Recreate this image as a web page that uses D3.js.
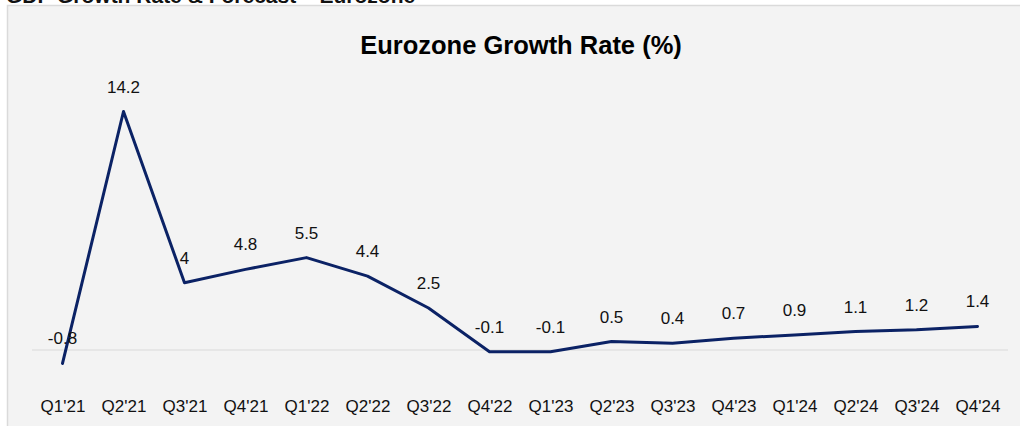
<!DOCTYPE html>
<html>
<head>
<meta charset="utf-8">
<script src="https://cdn.jsdelivr.net/npm/d3@7"></script>
<style>
  body { margin: 0; background: #fff; }
  svg text { font-family: "Liberation Sans", Arial, sans-serif; }
</style>
</head>
<body>
<svg id="chart" width="1020" height="426"></svg>
<script>
// chart data
let quarters = ["Q1'21", "Q2'21", "Q3'21", "Q4'21", "Q1'22", "Q2'22", "Q3'22", "Q4'22",
    "Q1'23", "Q2'23", "Q3'23", "Q4'23", "Q1'24", "Q2'24", "Q3'24", "Q4'24"]
let growth = [-0.8, 14.2, 4, 4.8, 5.5, 4.4, 2.5, -0.1, -0.1, 0.5, 0.4, 0.7, 0.9, 1.1, 1.2, 1.4]
let valueLabels = ["-0.8", "14.2", "4", "4.8", "5.5", "4.4", "2.5", "-0.1", "-0.1", "0.5", "0.4", "0.7", "0.9", "1.1", "1.2", "1.4"]

let data = quarters.map(function (q, i) {
    return { q: q, v: growth[i], label: valueLabels[i] }
})

let svg = d3.select("#chart")

// slide heading, cut off at the top like the source
svg.append("text")
    .attr("x", 6)
    .attr("y", 3)
    .style("font-size", "21px")
    .style("font-weight", "bold")
    .style("fill", "#111")
    .text("GDP Growth Rate & Forecast – Eurozone")

// panel
svg.append("rect")
    .attr("x", 7.5)
    .attr("y", 5.5)
    .attr("width", 1030)
    .attr("height", 440)
    .style("fill", "#f3f3f3")
    .style("stroke", "#dadada")
    .style("stroke-width", 1.5)

svg.append("text")
    .attr("x", 521)
    .attr("y", 54)
    .attr("text-anchor", "middle")
    .style("font-size", "25.5px")
    .style("font-weight", "bold")
    .style("fill", "#000")
    .text("Eurozone Growth Rate (%)")

// scales
let xScale = d3.scalePoint()
    .domain(quarters)
    .range([62.5, 977.5])

let yScale = d3.scaleLinear()
    .domain([0, 14.2])
    .range([350, 111.5])

// zero line
svg.append("line")
    .attr("x1", 32)
    .attr("x2", 1008)
    .attr("y1", yScale(0))
    .attr("y2", yScale(0))
    .style("stroke", "#d9d9d9")
    .style("stroke-width", 1)

// x axis
let xAxis = d3.axisBottom(xScale).tickSize(0).tickPadding(0)
let xAxisGroup = svg.append("g")
    .attr("class", "x-axis")
    .attr("transform", "translate(0,400)")
    .call(xAxis)
xAxisGroup.select(".domain").remove()
xAxisGroup.selectAll("text")
    .style("font-size", "17px")
    .style("font-family", "'Liberation Sans', Arial, sans-serif")
    .style("fill", "#111")

// the line
let line = d3.line()
    .x(function (d) { return xScale(d.q) })
    .y(function (d) { return yScale(d.v) })

svg.append("path")
    .datum(data)
    .attr("d", line)
    .style("fill", "none")
    .style("stroke", "#0b2265")
    .style("stroke-width", 3)
    .style("stroke-linejoin", "round")
    .style("stroke-linecap", "round")

// value labels
svg.selectAll("valueLabel")
    .data(data)
    .enter()
    .append("text")
    .attr("x", function (d) { return xScale(d.q) })
    .attr("y", function (d) { return yScale(d.v) - 19 })
    .attr("text-anchor", "middle")
    .style("font-size", "17px")
    .style("fill", "#111")
    .text(function (d) { return d.label })
</script>
</body>
</html>
